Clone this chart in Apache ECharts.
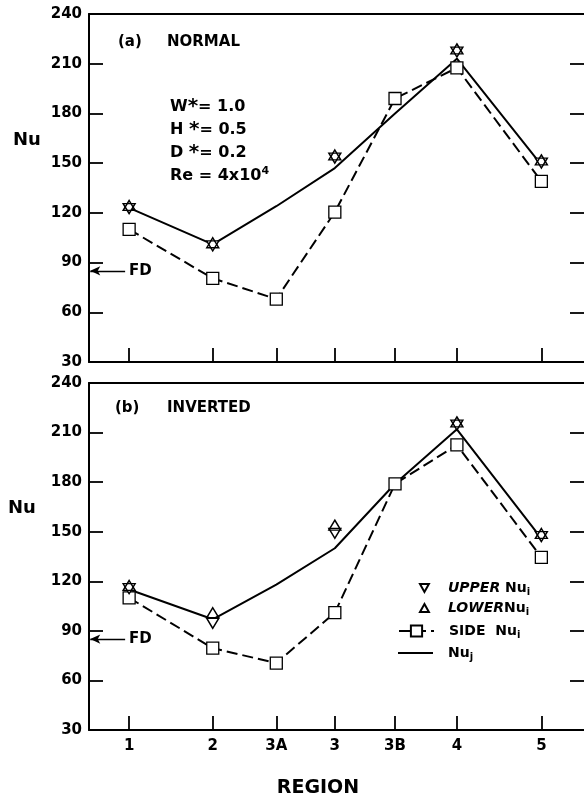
<!DOCTYPE html>
<html><head><meta charset="utf-8">
<script src="https://cdn.jsdelivr.net/npm/echarts@6/dist/echarts.min.js"></script>
<style>html,body{margin:0;padding:0;background:#fff}#c{width:584px;height:798px}</style>
</head><body><div id="c"></div>
<script>
// ---- data ----
const regions = ['1', '2', '3A', '3', '3B', '4', '5'];
const regionPos = [1, 2, 2.76, 3.46, 4.18, 4.92, 5.93];
const yMin = 30, yMax = 240, yStep = 30;
const fdValue = 85;

// (a) NORMAL
const normalUpper = [123.5, 101, null, 154, null, 218, 151];
const normalLower = [123.5, 101, null, 154, null, 218, 151];
const normalSide  = [110, 80.5, 68, 120.5, 189, 207.5, 139];
const normalNuj   = [123, 101, 124, 147, 180, 213, 149];

// (b) INVERTED
const invertedUpper = [116.5, 95.5, null, 150, null, 215.5, 148];
const invertedLower = [116.5, 100, null, 153, null, 215.5, 148];
const invertedSide  = [110, 79.5, 70.5, 101, 179, 202.5, 134.5];
const invertedNuj   = [115, 97, 118, 140, 179, 212, 146];

// ---- build ----
const FONT = 'DejaVu Sans';
const xMin = 0.52, xMax = 6.44;
const pairs = arr => arr.map((v, i) => v == null ? null : [regionPos[i], v]).filter(p => p);

const panels = [
  {upper: normalUpper, lower: normalLower, side: normalSide, nuj: normalNuj, top: 14, height: 348, labels: false},
  {upper: invertedUpper, lower: invertedLower, side: invertedSide, nuj: invertedNuj, top: 383, height: 347, labels: true}
];

const grid = [], xAxis = [], yAxis = [], series = [];
const axisLineStyle = {color: '#000', width: 2};
const tickStyle = {color: '#000', width: 1.8};

panels.forEach((p, g) => {
  grid.push({left: 89, right: -2, top: p.top, height: p.height});
  xAxis.push({
    gridIndex: g, type: 'value', min: xMin, max: xMax, position: 'bottom',
    axisLine: {show: true, onZero: false, lineStyle: axisLineStyle},
    axisTick: {show: true, inside: true, length: 14, customValues: regionPos, lineStyle: tickStyle},
    axisLabel: {show: p.labels, customValues: regionPos, margin: 9, color: '#000', fontFamily: FONT, fontSize: 15, fontWeight: 'bold',
      formatter: v => {
        let best = 0;
        regionPos.forEach((r, i) => { if (Math.abs(r - v) < Math.abs(regionPos[best] - v)) best = i; });
        return regions[best];
      }},
    splitLine: {show: false}
  });
  xAxis.push({
    gridIndex: g, type: 'value', min: xMin, max: xMax, position: 'top',
    axisLine: {show: true, onZero: false, lineStyle: axisLineStyle},
    axisTick: {show: false}, axisLabel: {show: false}, splitLine: {show: false}
  });
  yAxis.push({
    gridIndex: g, type: 'value', min: yMin, max: yMax, interval: yStep, position: 'left',
    axisLine: {show: true, onZero: false, lineStyle: axisLineStyle},
    axisTick: {show: true, inside: true, length: 14, lineStyle: tickStyle},
    axisLabel: {margin: 7, color: '#000', fontFamily: FONT, fontSize: 15, fontWeight: 'bold'},
    splitLine: {show: false}
  });
  yAxis.push({
    gridIndex: g, type: 'value', min: yMin, max: yMax, interval: yStep, position: 'right',
    axisLine: {show: false},
    axisTick: {show: true, inside: true, length: 14, lineStyle: tickStyle},
    axisLabel: {show: false}, splitLine: {show: false}
  });
  const xi = 2 * g, yi = 2 * g;
  series.push({
    name: 'nuj', type: 'line', xAxisIndex: xi, yAxisIndex: yi, data: pairs(p.nuj),
    symbol: 'none', z: 2, lineStyle: {color: '#000', width: 2}, itemStyle: {color: '#000'},
    markLine: {
      silent: true, symbol: ['none', 'arrow'], symbolSize: [7, 10],
      lineStyle: {color: '#000', width: 1.3, type: 'solid'},
      label: {show: true, position: 'start', formatter: 'FD', color: '#000', fontFamily: FONT, fontSize: 15, fontWeight: 'bold', distance: 4},
      data: [[{coord: [0.952, fdValue]}, {coord: [0.535, fdValue]}]]
    }
  });
  series.push({
    name: 'side', type: 'line', xAxisIndex: xi, yAxisIndex: yi, data: pairs(p.side),
    symbol: 'rect', symbolSize: 12, z: 3,
    lineStyle: {color: '#000', width: 2, type: [11, 5]},
    itemStyle: {color: '#fff', borderColor: '#000', borderWidth: 1.3}
  });
  series.push({
    name: 'upper', type: 'scatter', xAxisIndex: xi, yAxisIndex: yi, data: pairs(p.upper),
    symbol: 'triangle', symbolRotate: 180, symbolSize: [12, 10], symbolOffset: [0, 1.6], z: 4,
    itemStyle: {color: '#fff', borderColor: '#000', borderWidth: 1.4, opacity: 1}
  });
  series.push({
    name: 'lower', type: 'scatter', xAxisIndex: xi, yAxisIndex: yi, data: pairs(p.lower),
    symbol: 'triangle', symbolSize: [12, 10], symbolOffset: [0, -1.6], z: 5,
    itemStyle: {color: 'rgba(255,255,255,0)', borderColor: '#000', borderWidth: 1.4, opacity: 1}
  });
});

const legendRich = {
  t: {fontFamily: FONT, fontSize: 14, fontWeight: 'bold', lineHeight: 18, color: '#000'},
  it: {fontFamily: FONT, fontSize: 14, fontWeight: 'bold', lineHeight: 18, fontStyle: 'italic', color: '#000'},
  s: {fontFamily: FONT, fontSize: 10, fontWeight: 'bold', lineHeight: 10, verticalAlign: 'bottom', color: '#000'}
};
const legendText = {
  upper: '{it|UPPER}{t| Nu}{s|i}',
  lower: '{it|LOWER}{t|Nu}{s|i}',
  side: '{t|SIDE  Nu}{s|i}',
  nuj: '{t|Nu}{s|j}'
};

const textStyle = (size) => ({fill: '#000', font: 'bold ' + size + 'px "' + FONT + '"', verticalAlign: 'middle', textVerticalAlign: 'middle'});
const paramRich = {
  t: {fontFamily: FONT, fontSize: 16, fontWeight: 'bold', lineHeight: 20, color: '#000'},
  st: {fontFamily: FONT, fontSize: 20, fontWeight: 'bold', lineHeight: 20, verticalAlign: 'top', color: '#000'},
  sup: {fontFamily: FONT, fontSize: 11, fontWeight: 'bold', lineHeight: 11, verticalAlign: 'top', color: '#000'}
};
const paramLines = ['{t|W}{st|*}{t|= 1.0}', '{t|H }{st|*}{t|= 0.5}', '{t|D }{st|*}{t|= 0.2}', '{t|Re = 4x10}{sup|4}'];

const graphic = [
  {type: 'text', x: 118, y: 42, style: Object.assign(textStyle(15), {text: '(a)'})},
  {type: 'text', x: 167, y: 42, style: Object.assign(textStyle(15), {text: 'NORMAL'})},
  {type: 'text', x: 115, y: 408, style: Object.assign(textStyle(15), {text: '(b)'})},
  {type: 'text', x: 167, y: 408, style: Object.assign(textStyle(15), {text: 'INVERTED'})},
  {type: 'text', x: 13, y: 140, style: Object.assign(textStyle(18), {text: 'Nu'})},
  {type: 'text', x: 8, y: 508, style: Object.assign(textStyle(18), {text: 'Nu'})},
  {type: 'text', x: 318, y: 788, style: Object.assign(textStyle(19), {text: 'REGION', align: 'center', textAlign: 'center'})}
];
paramLines.forEach((s, i) => {
  graphic.push({type: 'text', x: 170, y: 107 + 23 * i, style: Object.assign(textStyle(16), {text: s, rich: paramRich})});
});

const chart = echarts.init(document.getElementById('c'), null, {renderer: 'canvas'});
chart.setOption({
  animation: false,
  backgroundColor: '#fff',
  grid, xAxis, yAxis, series, graphic,
  legend: [
    {data: [{name: 'upper', icon: 'path://M0,0 L10,0 L5,9 Z'}, {name: 'lower', icon: 'path://M5,0 L10,9 L0,9 Z'}],
      orient: 'vertical', left: 414, top: 576, itemWidth: 9, itemHeight: 8, itemGap: 4,
      selectedMode: false, formatter: n => legendText[n], textStyle: {rich: legendRich, padding: [0, 0, 0, 14]}},
    {data: ['side'], orient: 'vertical', left: 393, top: 619, itemWidth: 35, itemHeight: 14, itemGap: 4,
      selectedMode: false, formatter: n => legendText[n], textStyle: {rich: legendRich, padding: [0, 0, 0, 10]}},
    {data: [{name: 'nuj', icon: 'rect'}], orient: 'vertical', left: 393, top: 641, itemWidth: 35, itemHeight: 2,
      itemStyle: {color: '#000', borderWidth: 0},
      selectedMode: false, formatter: n => legendText[n], textStyle: {rich: legendRich, padding: [0, 0, 0, 10]}}
  ]
});
</script></body></html>
